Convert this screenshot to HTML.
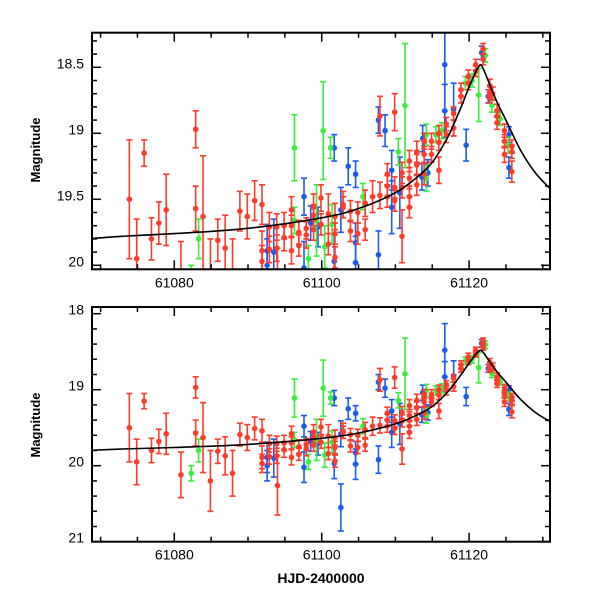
<!DOCTYPE html>
<html><head><meta charset="utf-8"><style>
body{margin:0;background:#fff}
svg{display:block;font-family:"Liberation Sans",sans-serif}
</style></head><body>
<svg id="c" width="600" height="600" xmlns="http://www.w3.org/2000/svg"></svg>
<script>
// data: [day, mag, err]
const redDays=[61073.9,61074.9,61075.9,61076.9,61077.9,61078.9,61080.9,61082.9,61082.9,61083.9,61084.9,61085.9,61086.9,61087.9,61088.9,61089.9,61090.9,61091.9,61091.9,61091.9,61092.9,61092.9,61093.9,61093.9,61094.9,61094.9,61095.9,61095.9,61095.9,61096.9,61096.9,61097.9,61097.9,61098.9,61098.9,61098.9,61099.9,61099.9,61100.9,61100.9,61101.8,61101.8,61101.8,61102.9,61102.9,61103.9,61103.9,61104.9,61104.9,61105.9,61105.9,61107.9,61106.9,61107.9,61108.9,61108.9,61108.9,61109.9,61109.9,61109.9,61110.9,61110.9,61110.9,61111.9,61111.9,61111.9,61111.9,61112.9,61112.9,61112.9,61113.9,61113.9,61113.9,61114.9,61114.9,61115.9,61115.9,61115.9,61116.9,61116.9,61117.9,61117.9,61118.9,61118.9,61119.9,61119.9,61120.9,61120.9,61121.9,61121.9,61122.8,61122.8,61122.8,61123.2,61123.8,61123.8,61123.8,61124.8,61124.8,61124.8,61125.8,61125.8,61125.8,61094.0];
const redMags=[19.50,19.95,19.15,19.80,19.68,19.58,20.12,18.97,19.57,19.63,20.2,19.81,19.87,20.1,19.59,19.63,19.51,19.54,19.97,19.89,19.71,19.88,19.71,19.87,19.70,19.79,19.58,19.89,19.70,19.75,19.85,19.77,19.72,19.56,19.62,19.73,19.49,19.69,19.61,19.84,19.63,19.76,19.94,19.54,19.56,19.59,19.74,19.60,19.76,19.53,19.73,18.87,19.48,19.47,19.48,19.40,19.31,18.84,19.41,19.51,19.78,19.30,19.41,19.34,19.21,19.48,19.56,19.24,19.39,19.14,19.16,19.06,19.31,19.16,19.06,19.28,19.07,19.00,19.01,18.93,18.96,18.85,18.72,18.67,18.57,18.62,18.48,18.53,18.36,18.44,18.64,18.69,18.72,18.70,18.87,18.92,18.83,18.98,19.06,19.16,19.10,19.14,19.29,20.26];
const redErrs=[0.45,0.30,0.10,0.16,0.16,0.27,0.30,0.14,0.17,0.46,0.40,0.16,0.25,0.30,0.15,0.17,0.15,0.15,0.12,0.15,0.11,0.10,0.10,0.10,0.10,0.10,0.10,0.10,0.08,0.09,0.08,0.10,0.08,0.10,0.08,0.08,0.10,0.08,0.15,0.08,0.10,0.08,0.08,0.10,0.08,0.08,0.08,0.08,0.08,0.10,0.08,0.15,0.12,0.10,0.08,0.08,0.08,0.14,0.08,0.08,0.20,0.08,0.08,0.08,0.08,0.08,0.08,0.08,0.08,0.08,0.06,0.06,0.08,0.06,0.06,0.10,0.06,0.06,0.06,0.05,0.06,0.05,0.05,0.05,0.05,0.05,0.04,0.04,0.04,0.04,0.05,0.05,0.05,0.05,0.05,0.05,0.05,0.05,0.05,0.06,0.05,0.05,0.08,0.39];
const greenDays=[61082.3,61083.3,61096.3,61096.3,61098.2,61099.3,61100.2,61100.4,61101.2,61101.4,61105.6,61111.3,61110.4,61114.2,61114.2,61115.5,61116.3,61119.5,61120.4,61121.3,61122.2,61123.1,61124.2,61125.3];
const greenMags=[20.10,19.80,19.11,19.66,19.95,19.66,18.98,19.86,19.11,19.69,19.48,18.79,19.14,19.34,19.01,19.01,18.98,18.62,18.60,18.71,18.41,18.79,18.89,19.09];
const greenErrs=[0.10,0.15,0.25,0.10,0.10,0.27,0.37,0.16,0.08,0.15,0.10,0.47,0.10,0.10,0.08,0.06,0.06,0.05,0.05,0.20,0.05,0.05,0.05,0.06];
const blueDays=[61092.6,61092.6,61093.5,61097.6,61097.6,61098.5,61099.5,61101.7,61101.7,61102.6,61103.6,61104.6,61104.6,61104.6,61107.7,61107.7,61108.6,61109.5,61109.5,61110.6,61113.6,61113.7,61114.4,61116.7,61116.7,61117.9,61119.6,61121.7,61122.6,61125.4,61125.4,61102.6];
const blueMags=[19.89,20.00,19.90,19.48,20.02,19.68,19.71,19.11,19.97,19.58,19.25,19.31,19.83,19.98,19.92,18.90,18.98,19.28,19.56,19.45,19.33,19.04,19.30,18.48,18.83,18.82,19.09,18.39,18.72,19.01,19.26,20.55];
const blueErrs=[0.20,0.20,0.25,0.14,0.20,0.13,0.15,0.10,0.20,0.17,0.14,0.10,0.15,0.20,0.18,0.10,0.12,0.15,0.20,0.27,0.10,0.10,0.10,0.35,0.20,0.20,0.12,0.05,0.05,0.06,0.08,0.31];
const modelDays=[61068,61073,61080,61090,61100,61105,61110,61113,61115,61117,61118,61119,61120,61121,61121.5,61122,61123,61124,61125,61127,61129,61131,61132];
const modelMags=[19.80,19.78,19.76,19.72,19.64,19.57,19.45,19.33,19.22,19.04,18.92,18.79,18.65,18.52,18.48,18.52,18.66,18.79,18.90,19.13,19.30,19.42,19.47];
const xTicksMajor=[61080,61100,61120];
const topTicksMajor=[18.5,19,19.5,20];
const botTicksMajor=[18,19,20,21];

const NS="http://www.w3.org/2000/svg";
const svg=document.getElementById('c');
function mk(tag,attrs,parent){const e=document.createElementNS(NS,tag);for(const k in attrs)e.setAttribute(k,attrs[k]);(parent||svg).appendChild(e);return e;}
const X0=92,X1=550;
function xs(d){return 174.3+(d-61080)*7.37;}
function smoothPath(pts){
  let d='M'+pts[0][0].toFixed(1)+','+pts[0][1].toFixed(1);
  for(let i=0;i<pts.length-1;i++){
    const p0=pts[Math.max(0,i-1)],p1=pts[i],p2=pts[i+1],p3=pts[Math.min(pts.length-1,i+2)];
    const t=(i+1===14-1||i===14-1)?0.0:1/6; // keep cusp near peak sharper
    const c1=[p1[0]+(p2[0]-p0[0])*t,p1[1]+(p2[1]-p0[1])*t];
    const c2=[p2[0]-(p3[0]-p1[0])*t,p2[1]-(p3[1]-p1[1])*t];
    d+='C'+c1[0].toFixed(1)+','+c1[1].toFixed(1)+' '+c2[0].toFixed(1)+','+c2[1].toFixed(1)+' '+p2[0].toFixed(1)+','+p2[1].toFixed(1);
  }
  return d;
}
const panels=[
 {name:'top',y0:32.7,y1:269.3,ys:m=>265.3-(20-m)*132,major:topTicksMajor,minorStep:0.1,mMin:18.2,mMax:20.1,magLabelY:150},
 {name:'bottom',y0:307,y1:541.7,ys:m=>465.7-(20-m)*76,major:botTicksMajor,minorStep:0.2,mMin:17.8,mMax:21.1,magLabelY:425}
];
const defs=mk('defs',{});
panels.forEach((p,pi)=>{
  const cp=mk('clipPath',{id:'clip'+pi},defs);
  mk('rect',{x:X0,y:p.y0,width:X1-X0,height:p.y1-p.y0},cp);
  const g=mk('g',{'clip-path':'url(#clip'+pi+')'});
  
  
  const series=[[redDays,redMags,redErrs,'#ff3b2a','red'],[greenDays,greenMags,greenErrs,'#3aee3a','green'],[blueDays,blueMags,blueErrs,'#1a5cf0','blue']];
  const order=[series[2],series[1],series[0]];
  order.forEach(s=>{
    const sg=mk('g',{},g);
    
    
    for(let i=0;i<s[0].length;i++){
      const x=xs(s[0][i]),y=p.ys(s[1][i]),ya=p.ys(s[1][i]-s[2][i]),yb=p.ys(s[1][i]+s[2][i]);
      const pt=mk('g',{},sg);
      
      
      mk('line',{x1:x,x2:x,y1:ya,y2:yb,stroke:s[3],'stroke-width':1.6},pt);
      mk('line',{x1:x-3,x2:x+3,y1:ya,y2:ya,stroke:s[3],'stroke-width':1.6},pt);
      mk('line',{x1:x-3,x2:x+3,y1:yb,y2:yb,stroke:s[3],'stroke-width':1.6},pt);
      mk('circle',{cx:x,cy:y,r:2.8,fill:s[3]},pt);
    }
  });
  const pts=modelDays.map((t,i)=>[xs(t),p.ys(modelMags[i])]);
  const ml=mk('path',{d:smoothPath(pts),fill:'none',stroke:'#000','stroke-width':1.6},g);
  
  
  const fr=mk('rect',{x:X0,y:p.y0,width:X1-X0,height:p.y1-p.y0,fill:'none',stroke:'#000','stroke-width':2});
  
  
  for(let t=61070;t<=61130;t+=5){
    const x=xs(t); if(x<X0||x>X1)continue;
    const L=(t%20===0)?9:5;
    mk('line',{x1:x,x2:x,y1:p.y1,y2:p.y1-L,stroke:'#000','stroke-width':1.5});
    mk('line',{x1:x,x2:x,y1:p.y0,y2:p.y0+L,stroke:'#000','stroke-width':1.5});
  }
  xTicksMajor.forEach(t=>{
    const tl=mk('text',{x:xs(t),y:p.y1+18,'text-anchor':'middle','font-size':14});
    tl.textContent=t;
    
    
  });
  for(let k=Math.ceil(p.mMin/p.minorStep);k*p.minorStep<=p.mMax;k++){
    const m=+(k*p.minorStep).toFixed(2);const y=p.ys(m);
    if(y<p.y0-0.5||y>p.y1+0.5)continue;
    const maj=p.major.some(v=>Math.abs(v-m)<1e-6);
    const L=maj?9:5;
    mk('line',{x1:X0,x2:X0+L,y1:y,y2:y,stroke:'#000','stroke-width':1.5});
    mk('line',{x1:X1,x2:X1-L,y1:y,y2:y,stroke:'#000','stroke-width':1.5});
  }
  p.major.forEach(m=>{
    const tl=mk('text',{x:84,y:p.ys(m)+1,'text-anchor':'end','font-size':14});
    tl.textContent=String(m);
    
    
  });
  const yl=mk('text',{x:0,y:0,'text-anchor':'middle','font-size':13,'font-weight':'bold',transform:'translate(40,'+p.magLabelY+') rotate(-90)'});
  yl.textContent='Magnitude';
  
  
});
const xt=mk('text',{x:321,y:583,'text-anchor':'middle','font-size':14,'font-weight':'bold'});
xt.textContent='HJD-2400000';


</script>
</body></html>
